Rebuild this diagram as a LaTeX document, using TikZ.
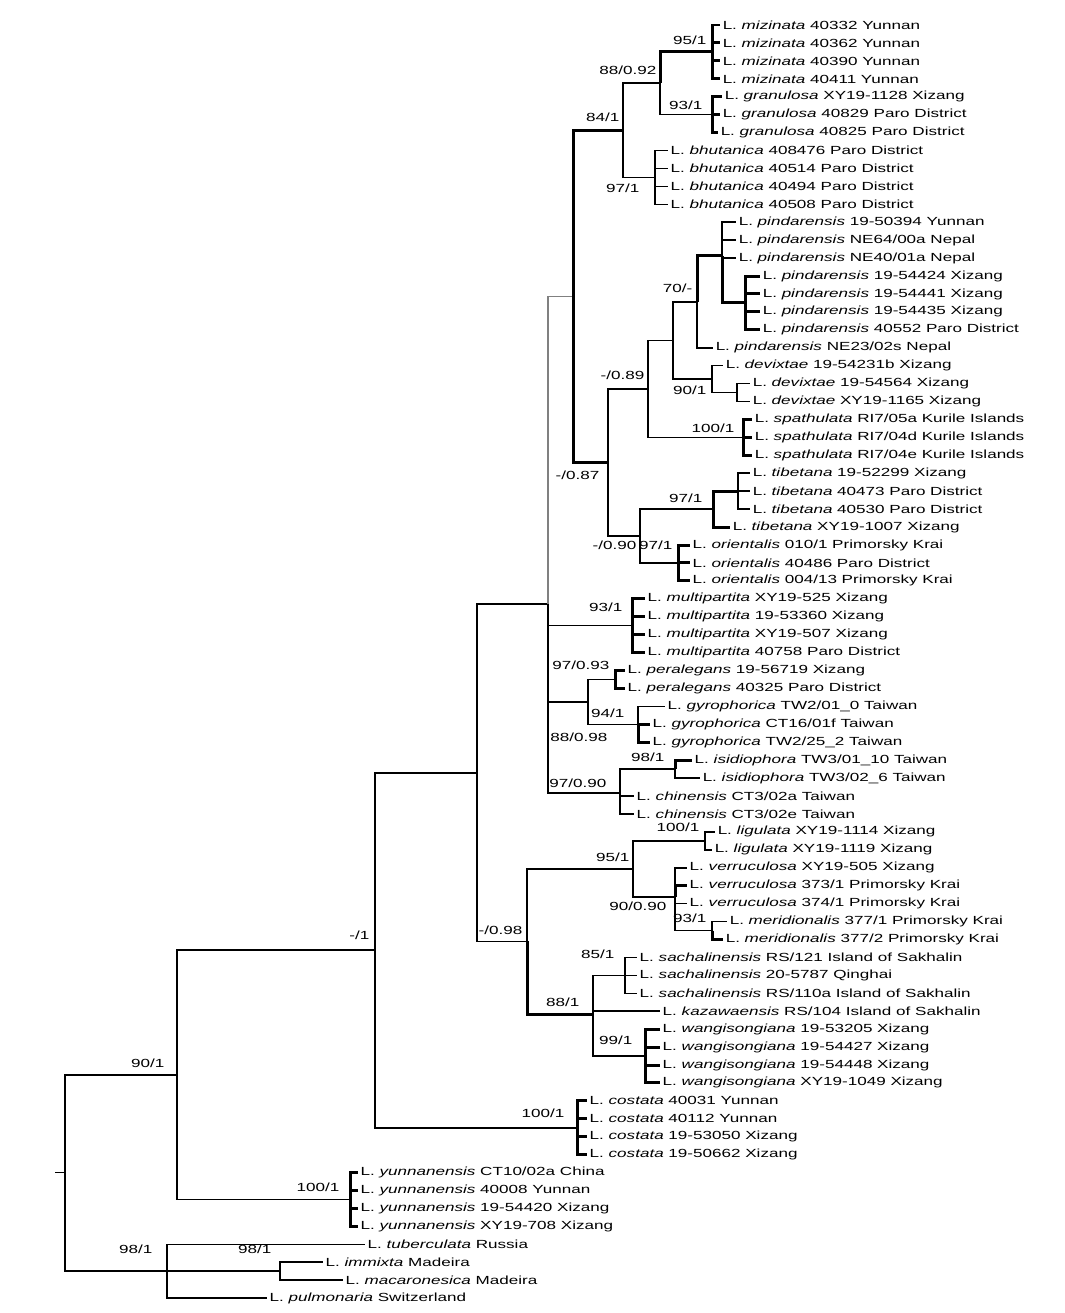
\documentclass[tikz,border=0pt]{standalone}
\usepackage{fontspec}
\newfontfamily\treefont[FakeStretch=1.45]{Liberation Sans}
\newcommand{\taxon}[2]{L. \textit{#1} #2}

\begin{document}
\begin{tikzpicture}[x=0.02cm, y=-0.3586cm, line width=0.9pt,
  leaf/.style={anchor=west, inner sep=1pt, font=\treefont\fontsize{6.7}{8}\selectfont},
  bs/.style={anchor=east, inner sep=0pt, font=\treefont\fontsize{6.7}{8}\selectfont},
  br/.style={to path={|- (\tikztotarget)}},
  tk/.style={line width=1.7pt}]
   \useasboundingbox (0,-1.394) rectangle (1064,71.83);

   %mizinata, granulosa, bhutanica
   \node[leaf] (mz1) at (720,0) {\taxon{mizinata}{40332 Yunnan}};
   \node[leaf] (mz2) at (720,1) {\taxon{mizinata}{40362 Yunnan}};
   \node[leaf] (mz3) at (720,2) {\taxon{mizinata}{40390 Yunnan}};
   \node[leaf] (mz4) at (720,3) {\taxon{mizinata}{40411 Yunnan}};
   \node[leaf] (gr1) at (722,4) {\taxon{granulosa}{XY19-1128 Xizang}};
   \node[leaf] (gr2) at (720,5) {\taxon{granulosa}{40829 Paro District}};
   \node[leaf] (gr3) at (718,6) {\taxon{granulosa}{40825 Paro District}};
   \node[leaf] (bh1) at (668,7) {\taxon{bhutanica}{408476 Paro District}};
   \node[leaf] (bh2) at (668,8) {\taxon{bhutanica}{40514 Paro District}};
   \node[leaf] (bh3) at (668,9) {\taxon{bhutanica}{40494 Paro District}};
   \node[leaf] (bh4) at (668,10) {\taxon{bhutanica}{40508 Paro District}};

   %pindarensis, devixtae, spathulata
   \node[leaf] (pi1) at (736,11) {\taxon{pindarensis}{19-50394 Yunnan}};
   \node[leaf] (pi2) at (736,12) {\taxon{pindarensis}{NE64/00a Nepal}};
   \node[leaf] (pi3) at (736,13) {\taxon{pindarensis}{NE40/01a Nepal}};
   \node[leaf] (pi4) at (760,14) {\taxon{pindarensis}{19-54424 Xizang}};
   \node[leaf] (pi5) at (760,15) {\taxon{pindarensis}{19-54441 Xizang}};
   \node[leaf] (pi6) at (760,16) {\taxon{pindarensis}{19-54435 Xizang}};
   \node[leaf] (pi7) at (760,17) {\taxon{pindarensis}{40552 Paro District}};
   \node[leaf] (pi8) at (713,18) {\taxon{pindarensis}{NE23/02s Nepal}};
   \node[leaf] (dv1) at (723,19) {\taxon{devixtae}{19-54231b Xizang}};
   \node[leaf] (dv2) at (750,20) {\taxon{devixtae}{19-54564 Xizang}};
   \node[leaf] (dv3) at (750,21) {\taxon{devixtae}{XY19-1165 Xizang}};
   \node[leaf] (sp1) at (752,22) {\taxon{spathulata}{RI7/05a Kurile Islands}};
   \node[leaf] (sp2) at (752,23) {\taxon{spathulata}{RI7/04d Kurile Islands}};
   \node[leaf] (sp3) at (752,24) {\taxon{spathulata}{RI7/04e Kurile Islands}};

   %tibetana, orientalis
   \node[leaf] (tb1) at (750,25) {\taxon{tibetana}{19-52299 Xizang}};
   \node[leaf] (tb2) at (750,26) {\taxon{tibetana}{40473 Paro District}};
   \node[leaf] (tb3) at (750,27) {\taxon{tibetana}{40530 Paro District}};
   \node[leaf] (tb4) at (730,28) {\taxon{tibetana}{XY19-1007 Xizang}};
   \node[leaf] (or1) at (690,29) {\taxon{orientalis}{010/1 Primorsky Krai}};
   \node[leaf] (or2) at (690,30) {\taxon{orientalis}{40486 Paro District}};
   \node[leaf] (or3) at (690,31) {\taxon{orientalis}{004/13 Primorsky Krai}};

   %multipartita, peralegans, gyrophorica, isidiophora, chinensis
   \node[leaf] (mu1) at (645,32) {\taxon{multipartita}{XY19-525 Xizang}};
   \node[leaf] (mu2) at (645,33) {\taxon{multipartita}{19-53360 Xizang}};
   \node[leaf] (mu3) at (645,34) {\taxon{multipartita}{XY19-507 Xizang}};
   \node[leaf] (mu4) at (645,35) {\taxon{multipartita}{40758 Paro District}};
   \node[leaf] (pe1) at (625,36) {\taxon{peralegans}{19-56719 Xizang}};
   \node[leaf] (pe2) at (625,37) {\taxon{peralegans}{40325 Paro District}};
   \node[leaf] (gy1) at (665,38) {\taxon{gyrophorica}{TW2/01\_0 Taiwan}};
   \node[leaf] (gy2) at (650,39) {\taxon{gyrophorica}{CT16/01f Taiwan}};
   \node[leaf] (gy3) at (650,40) {\taxon{gyrophorica}{TW2/25\_2 Taiwan}};
   \node[leaf] (is1) at (692,41) {\taxon{isidiophora}{TW3/01\_10 Taiwan}};
   \node[leaf] (is2) at (700,42) {\taxon{isidiophora}{TW3/02\_6 Taiwan}};
   \node[leaf] (ch1) at (634,43) {\taxon{chinensis}{CT3/02a Taiwan}};
   \node[leaf] (ch2) at (634,44) {\taxon{chinensis}{CT3/02e Taiwan}};

   %ligulata, verruculosa, meridionalis
   \node[leaf] (li1) at (715,45) {\taxon{ligulata}{XY19-1114 Xizang}};
   \node[leaf] (li2) at (712,46) {\taxon{ligulata}{XY19-1119 Xizang}};
   \node[leaf] (ve1) at (687,47) {\taxon{verruculosa}{XY19-505 Xizang}};
   \node[leaf] (ve2) at (687,48) {\taxon{verruculosa}{373/1 Primorsky Krai}};
   \node[leaf] (ve3) at (687,49) {\taxon{verruculosa}{374/1 Primorsky Krai}};
   \node[leaf] (me1) at (727,50) {\taxon{meridionalis}{377/1 Primorsky Krai}};
   \node[leaf] (me2) at (723,51) {\taxon{meridionalis}{377/2 Primorsky Krai}};

   %sachalinensis, kazawaensis, wangisongiana
   \node[leaf] (sa1) at (637,52) {\taxon{sachalinensis}{RS/121 Island of Sakhalin}};
   \node[leaf] (sa2) at (637,53) {\taxon{sachalinensis}{20-5787 Qinghai}};
   \node[leaf] (sa3) at (637,54) {\taxon{sachalinensis}{RS/110a Island of Sakhalin}};
   \node[leaf] (kz) at (660,55) {\taxon{kazawaensis}{RS/104 Island of Sakhalin}};
   \node[leaf] (wa1) at (660,56) {\taxon{wangisongiana}{19-53205 Xizang}};
   \node[leaf] (wa2) at (660,57) {\taxon{wangisongiana}{19-54427 Xizang}};
   \node[leaf] (wa3) at (660,58) {\taxon{wangisongiana}{19-54448 Xizang}};
   \node[leaf] (wa4) at (660,59) {\taxon{wangisongiana}{XY19-1049 Xizang}};

   %costata, yunnanensis, outgroup
   \node[leaf] (co1) at (587,60) {\taxon{costata}{40031 Yunnan}};
   \node[leaf] (co2) at (587,61) {\taxon{costata}{40112 Yunnan}};
   \node[leaf] (co3) at (587,62) {\taxon{costata}{19-53050 Xizang}};
   \node[leaf] (co4) at (587,63) {\taxon{costata}{19-50662 Xizang}};
   \node[leaf] (yu1) at (358,64) {\taxon{yunnanensis}{CT10/02a China}};
   \node[leaf] (yu2) at (358,65) {\taxon{yunnanensis}{40008 Yunnan}};
   \node[leaf] (yu3) at (358,66) {\taxon{yunnanensis}{19-54420 Xizang}};
   \node[leaf] (yu4) at (358,67) {\taxon{yunnanensis}{XY19-708 Xizang}};
   \node[leaf] (tu) at (365,68) {\taxon{tuberculata}{Russia}};
   \node[leaf] (ix) at (323,69) {\taxon{immixta}{Madeira}};
   \node[leaf] (ma) at (343,70) {\taxon{macaronesica}{Madeira}};
   \node[leaf] (pu) at (267,71) {\taxon{pulmonaria}{Switzerland}};

   %internal nodes
   \coordinate (nmz) at (712,1.5);
   \coordinate (ngr) at (712,5);
   \coordinate (nmg) at (660,3.25);
   \coordinate (nbh) at (655,8.5);
   \coordinate (nmgb) at (623,5.875);
   \coordinate (npA) at (745,15.5);
   \coordinate (npB) at (722,12.875);
   \coordinate (npC) at (697,15.44);
   \coordinate (ndv2) at (737,20.5);
   \coordinate (ndv) at (712,19.75);
   \coordinate (npd) at (673,17.59);
   \coordinate (nsp) at (743,23);
   \coordinate (npds) at (648,20.3);
   \coordinate (ntb2) at (738,26);
   \coordinate (ntb) at (713,27);
   \coordinate (nor) at (678,30);
   \coordinate (ntbo) at (640,28.5);
   \coordinate (nA) at (608,24.4);
   \coordinate (nB) at (573,15.14);
   \coordinate (nmu) at (632,33.5);
   \coordinate (npe) at (615,36.5);
   \coordinate (ngy) at (638,39);
   \coordinate (npg) at (588,37.75);
   \coordinate (nis) at (675,41.5);
   \coordinate (nic) at (620,42.83);
   \coordinate (nC) at (548,32.3);
   \coordinate (nli) at (705,45.5);
   \coordinate (nme) at (712,50.5);
   \coordinate (nvm) at (675,48.63);
   \coordinate (nlv) at (633,47.06);
   \coordinate (nsa) at (625,53);
   \coordinate (nwa) at (645,57.5);
   \coordinate (nsk) at (593,55.17);
   \coordinate (nlvs) at (527,51.11);
   \coordinate (nD) at (477,41.7);
   \coordinate (nco) at (577,61.5);
   \coordinate (nE) at (375,51.6);
   \coordinate (nyu) at (350,65.5);
   \coordinate (nF) at (177,58.55);
   \coordinate (nim) at (280,69.5);
   \coordinate (nog) at (167,69.5);
   \coordinate (nroot) at (65,64);
   \coordinate (stub) at (55,64);

   %support values
   \node[bs] (lmz) at (707,0.84) {95/1};
   \node[bs] (lmg) at (657,2.51) {88/0.92};
   \node[bs] (lgr) at (703,4.46) {93/1};
   \node[bs] (lmgb) at (620,5.13) {84/1};
   \node[bs] (lbh) at (640,9.09) {97/1};
   \node[bs] (lpC) at (693,14.67) {70/-};
   \node[bs] (lpds) at (645,19.52) {-/0.89};
   \node[bs] (ldv) at (707,20.36) {90/1};
   \node[bs] (lsp) at (735,22.48) {100/1};
   \node[bs] (lA) at (600,25.1) {-/0.87};
   \node[bs] (ltb) at (703,26.38) {97/1};
   \node[bs] (ltbo) at (637,29.0) {-/0.90};
   \node[bs] (lor) at (673,29.0) {97/1};
   \node[bs] (lmu) at (623,32.46) {93/1};
   \node[bs] (lpe) at (610,35.69) {97/0.93};
   \node[bs] (lgy) at (625,38.37) {94/1};
   \node[bs] (lpg) at (608,39.71) {88/0.98};
   \node[bs] (lis) at (665,40.83) {98/1};
   \node[bs] (lic) at (607,42.27) {97/0.90};
   \node[bs] (lli) at (700,44.73) {100/1};
   \node[bs] (llv) at (630,46.4) {95/1};
   \node[bs] (lvm) at (667,49.13) {90/0.90};
   \node[bs] (lme) at (707,49.8) {93/1};
   \node[bs] (llvs) at (523,50.47) {-/0.98};
   \node[bs] (lsa) at (615,51.8) {85/1};
   \node[bs] (lsk) at (580,54.5) {88/1};
   \node[bs] (lwa) at (633,56.6) {99/1};
   \node[bs] (lco) at (565,60.68) {100/1};
   \node[bs] (lE) at (370,50.75) {-/1};
   \node[bs] (lyu) at (340,64.8) {100/1};
   \node[bs] (lF) at (165,57.9) {90/1};
   \node[bs] (log) at (153,68.3) {98/1};
   \node[bs] (lim) at (272,68.3) {98/1};

  \draw (stub) -- (nroot);
  \path[draw, br]
    (nroot) edge (nF)
            edge (nog)
    (nF) edge (nE)
         edge (nyu)
    (nE) edge (nD)
         edge (nco)
    (nD) edge (nC)
         edge (nlvs)
    (nC) edge[gray] (nB)
         edge (nmu)
         edge (npg)
         edge (nic)
    %upper clade
    (nB) edge[tk] (nmgb)
         edge[tk] (nA)
    (nmgb) edge (nmg)
           edge (nbh)
    (nmg) edge[tk] (nmz)
          edge (ngr)
    (nmz) edge[tk] (mz1) edge[tk] (mz2) edge[tk] (mz3) edge[tk] (mz4)
    (ngr) edge[tk] (gr1) edge[tk] (gr2) edge[tk] (gr3)
    (nbh) edge (bh1) edge (bh2) edge (bh3) edge (bh4)
    (nA) edge (npds)
         edge (ntbo)
    (npds) edge (npd)
           edge (nsp)
    (npd) edge (npC)
          edge (ndv)
    (npC) edge[tk] (npB)
          edge (pi8)
    (npB) edge (pi1) edge (pi2) edge (pi3)
          edge[tk] (npA)
    (npA) edge[tk] (pi4) edge[tk] (pi5) edge[tk] (pi6) edge[tk] (pi7)
    (ndv) edge (dv1)
          edge (ndv2)
    (ndv2) edge (dv2) edge (dv3)
    (nsp) edge[tk] (sp1) edge[tk] (sp2) edge[tk] (sp3)
    (ntbo) edge (ntb)
           edge (nor)
    (ntb) edge[tk] (ntb2)
          edge[tk] (tb4)
    (ntb2) edge (tb1) edge (tb2) edge (tb3)
    (nor) edge[tk] (or1) edge[tk] (or2) edge[tk] (or3)
    %middle clades
    (nmu) edge[tk] (mu1) edge[tk] (mu2) edge[tk] (mu3) edge[tk] (mu4)
    (npg) edge (npe)
          edge (ngy)
    (npe) edge[tk] (pe1) edge[tk] (pe2)
    (ngy) edge (gy1) edge[tk] (gy2) edge[tk] (gy3)
    (nic) edge (nis)
          edge (ch1)
          edge (ch2)
    (nis) edge[tk] (is1) edge (is2)
    %lower clades
    (nlvs) edge (nlv)
           edge[tk] (nsk)
    (nlv) edge (nli)
          edge (nvm)
    (nli) edge (li1) edge (li2)
    (nvm) edge (ve1) edge[tk] (ve2) edge (ve3)
          edge (nme)
    (nme) edge (me1) edge[tk] (me2)
    (nsk) edge (nsa)
          edge (kz)
          edge (nwa)
    (nsa) edge (sa1) edge (sa2) edge (sa3)
    (nwa) edge[tk] (wa1) edge[tk] (wa2) edge[tk] (wa3) edge[tk] (wa4)
    (nco) edge[tk] (co1) edge[tk] (co2) edge[tk] (co3) edge[tk] (co4)
    (nyu) edge[tk] (yu1) edge[tk] (yu2) edge[tk] (yu3) edge[tk] (yu4)
    %outgroup
    (nog) edge (tu)
          edge (nim)
          edge (pu)
    (nim) edge (ix) edge (ma);
\end{tikzpicture}
\end{document}
